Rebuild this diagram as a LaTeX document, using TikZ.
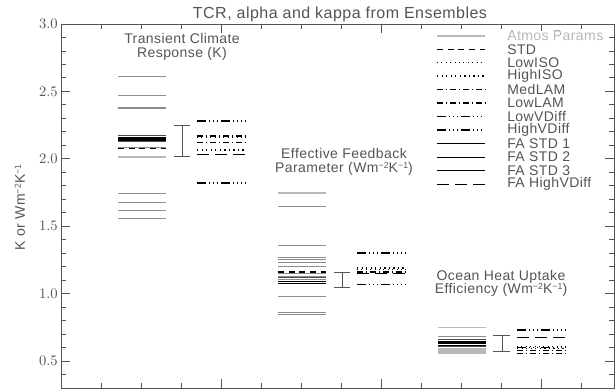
\documentclass[tikz,border=0pt]{standalone}
\usepackage{fontspec}
\setmainfont[LetterSpace=3]{Liberation Sans}
\usepackage{xcolor}
\usepackage{tikz}

\definecolor{axisgray}{gray}{0.33}
\definecolor{atmosgray}{gray}{0.55}
\definecolor{palegray}{gray}{0.72}
\definecolor{darkline}{gray}{0.3}
\setlength{\lineskiplimit}{-10pt}
\newcommand{\unitsup}[1]{\raisebox{0.55ex}{\fontsize{6.5}{7}\selectfont #1}}

\begin{document}
\begin{tikzpicture}[
    x=0.75pt, y=101.1pt,
    font=\fontsize{10.5}{10.4}\selectfont,
    axis/.style={draw=axisgray, line width=0.6pt},
    txt/.style={text=axisgray, inner sep=0pt},
    errbar/.style={draw=axisgray, line width=0.6pt},
    atmos/.style={draw=atmosgray, line width=0.6pt},
    atmosthick/.style={draw=palegray, line width=1.5pt},
    atmosdark/.style={draw=darkline, line width=0.7pt},
    std/.style={draw=black, line width=0.8pt, dash pattern=on 4.5pt off 3.5pt},
    lowiso/.style={draw=black, line width=0.6pt, dash pattern=on 0.6pt off 2.7pt},
    highiso/.style={draw=black, line width=1.1pt, dash pattern=on 1pt off 2.4pt},
    medlam/.style={draw=black, line width=0.6pt, dash pattern=on 4.5pt off 2.2pt on 0.8pt off 2.2pt},
    lowlam/.style={draw=black, line width=1.2pt, dash pattern=on 4.5pt off 2.2pt on 0.8pt off 2.2pt},
    lowvdiff/.style={draw=black, line width=0.7pt, dash pattern=on 6.5pt off 2.3pt on 0.8pt off 2.3pt on 0.8pt off 2.3pt on 0.8pt off 2.3pt},
    highvdiff/.style={draw=black, line width=1.3pt, dash pattern=on 6.5pt off 2.3pt on 0.8pt off 2.3pt on 0.8pt off 2.3pt on 0.8pt off 2.3pt},
    fastda/.style={draw=black, line width=0.6pt},
    fastdb/.style={draw=black, line width=0.8pt},
    fastdc/.style={draw=black, line width=1.0pt},
    fahigh/.style={draw=black, line width=0.6pt, dash pattern=on 9pt off 4.5pt}
]

\useasboundingbox (0,0.2849) rectangle (616,3.178);

% Axes box and ticks
\draw[axis] (61,0.3) rectangle (614,3.0);
\foreach \v in {0.4,0.5,...,2.95} {
    \draw[axis] (61,\v) -- ++(5,0);
    \draw[axis] (614,\v) -- ++(-5,0);
}
\foreach \v in {0.5,1.0,...,3.0} {
    \draw[axis] (61,\v) -- ++(9,0);
    \draw[axis] (614,\v) -- ++(-9,0);
    \node[txt, anchor=east] at (58,\v) {\pgfmathprintnumber[fixed,fixed zerofill,precision=1]{\v}};
}
\foreach \k in {1,...,13} {
    \pgfmathsetmacro{\tl}{mod(\k,4)==0 ? 0.067 : 0.037}
    \draw[axis] (61+40*\k,0.3) -- ++(0,\tl);
    \draw[axis] (61+40*\k,3.0) -- ++(0,-\tl);
}

% Titles
\node[txt, font=\fontsize{12}{14}\selectfont] (title) at (340,3.074) {TCR, alpha and kappa from Ensembles};
\node[txt, rotate=90] (ylabel) at (20,1.64) {K or Wm\unitsup{−2}K\unitsup{−1}};

\node[txt, align=center] (tcrlabel) at (182,2.832) {Transient Climate\\Response (K)};
\node[txt, align=center] (alphalabel) at (344,1.979) {Effective Feedback\\Parameter (Wm\unitsup{−2}K\unitsup{−1})};
\node[txt, align=center] (kappalabel) at (501,1.076) {Ocean Heat Uptake\\Efficiency (Wm\unitsup{−2}K\unitsup{−1})};

% Transient climate response
\foreach \v in {2.612,2.468,2.382,2.372,2.088,1.744,1.677,1.620,1.559}
    \draw[atmos] (118,\v) -- (166,\v);
\draw[atmosthick] (118,2.016) -- (166,2.016);
\draw[atmosdark] (118,2.171) -- (166,2.171);
\draw[fastdb] (118,2.159) -- (166,2.159);
\draw[fastdc] (118,2.146) -- (166,2.146);
\draw[fastda] (118,2.135) -- (166,2.135);
\draw[atmosdark] (118,2.127) -- (166,2.127);
\draw[std] (118,2.073) -- (166,2.073);

\draw[errbar] (174,2.251) -- (190,2.251) (182,2.251) -- (182,2.021) (174,2.021) -- (190,2.021);

\draw[highvdiff] (197,2.280) -- (246,2.280);
\draw[lowlam] (197,2.169) -- (246,2.169);
\draw[lowiso] (197,2.162) -- (246,2.162);
\draw[medlam] (197,2.119) -- (246,2.119);
\draw[highiso] (197,2.064) -- (246,2.064);
\draw[fahigh] (197,2.033) -- (246,2.033);
\draw[lowvdiff, line width=1.2pt] (197,1.820) -- (246,1.820);

% Effective feedback parameter
\foreach \v in {1.650,1.361,1.270,1.250,1.229,1.151,1.131,1.106,0.982,0.861,0.846}
    \draw[atmos] (278,\v) -- (326,\v);
\draw[atmosthick] (278,1.744) -- (326,1.744);
\draw[atmosthick, draw=atmosgray, line width=1pt] (278,1.200) -- (326,1.200);
\draw[std] (278,1.160) -- (326,1.160);
\draw[atmosdark] (278,1.118) -- (326,1.118);
\draw[fastdb] (278,1.088) -- (326,1.088);
\draw[fastdc] (278,1.076) -- (326,1.076);

\draw[errbar] (334,1.160) -- (350,1.160) (342,1.160) -- (342,1.047) (334,1.047) -- (350,1.047);

\draw[highvdiff] (357,1.301) -- (406,1.301);
\draw[highiso] (357,1.190) -- (406,1.190);
\draw[lowiso] (357,1.178) -- (406,1.178);
\draw[medlam] (357,1.168) -- (406,1.168);
\draw[lowlam] (357,1.158) -- (406,1.158);
\draw[fahigh] (357,1.150) -- (406,1.150);
\draw[lowvdiff] (357,1.066) -- (406,1.066);

% Ocean heat uptake efficiency
\draw[atmos, draw=palegray] (438,0.750) -- (486,0.750);
\draw[atmos] (438,0.680) -- (486,0.680);
\draw[atmosdark] (438,0.661) -- (486,0.661);
\draw[fastdb] (438,0.641) -- (486,0.641);
\draw[fastdc] (438,0.628) -- (486,0.628);
\draw[fastda] (438,0.616) -- (486,0.616);
\draw[atmosdark] (438,0.606) -- (486,0.606);
\foreach \v in {0.587,0.575,0.562}
    \draw[atmosthick] (438,\v) -- (486,\v);

\draw[errbar] (493,0.690) -- (510,0.690) (502,0.690) -- (502,0.572) (493,0.572) -- (510,0.572);

\draw[highvdiff] (517,0.730) -- (566,0.730);
\draw[fahigh] (517,0.676) -- (566,0.676);
\draw[lowiso] (517,0.606) -- (566,0.606);
\draw[lowvdiff] (517,0.598) -- (566,0.598);
\draw[highiso] (517,0.591) -- (566,0.591);
\draw[medlam] (517,0.576) -- (566,0.576);
\draw[lowlam] (517,0.557) -- (566,0.557);

% Legend
\foreach \st/\lab [count=\i from 0] in {atmosthick/Atmos Params, std/STD, lowiso/LowISO, highiso/HighISO,
        medlam/MedLAM, lowlam/LowLAM, lowvdiff/LowVDiff, highvdiff/HighVDiff,
        fastda/FA STD 1, fastdb/FA STD 2, fastdc/FA STD 3, fahigh/FA HighVDiff} {
    \draw[\st] (437,2.913-0.1*\i) -- (485,2.913-0.1*\i);
    \node[txt, anchor=west] (leg\i) at (507,2.913-0.1*\i) {\lab};
}
\node[txt, anchor=west, text=palegray, fill=white] at (leg0.west) {Atmos Params};

\end{tikzpicture}
\end{document}
